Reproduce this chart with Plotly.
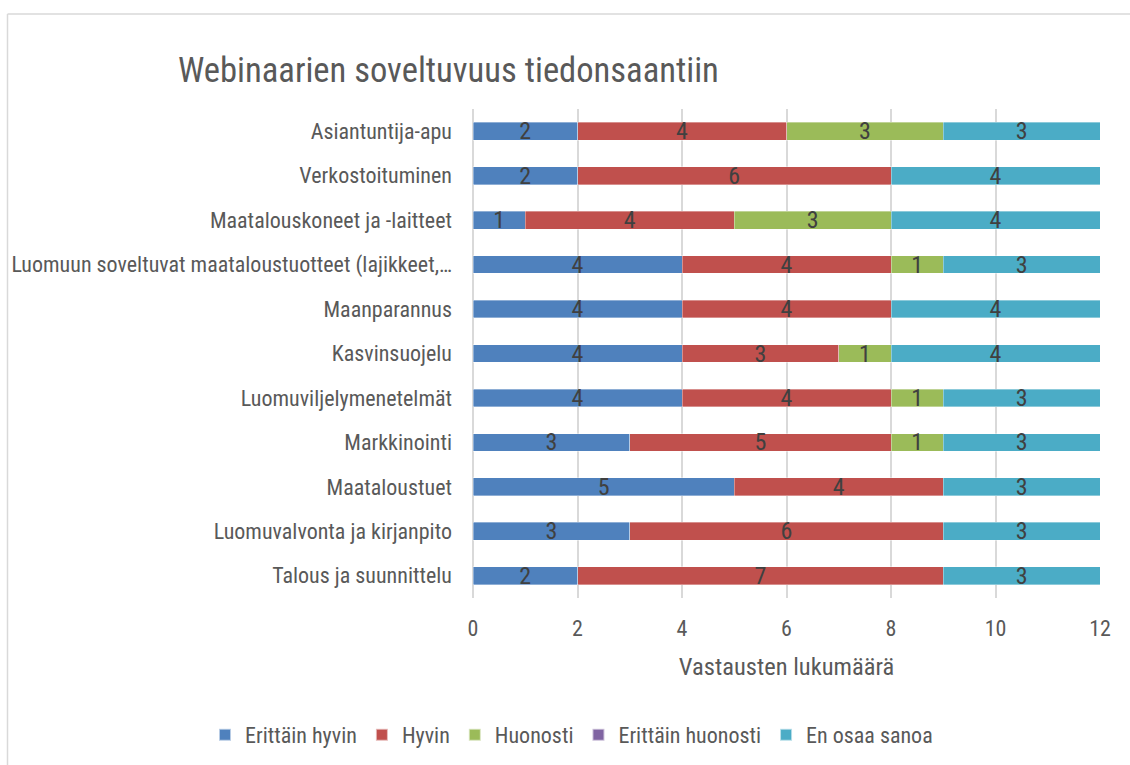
import plotly.graph_objects as go

categories = [
    "Talous ja suunnittelu",
    "Luomuvalvonta ja kirjanpito",
    "Maataloustuet",
    "Markkinointi",
    "Luomuviljelymenetelmät",
    "Kasvinsuojelu",
    "Maanparannus",
    "Luomuun soveltuvat maataloustuotteet (lajikkeet,…",
    "Maatalouskoneet ja -laitteet",
    "Verkostoituminen",
    "Asiantuntija-apu",
]
erittain_hyvin = [2, 3, 5, 3, 4, 4, 4, 4, 1, 2, 2]
hyvin = [7, 6, 4, 5, 4, 3, 4, 4, 4, 6, 4]
huonosti = [0, 0, 0, 1, 1, 1, 0, 1, 3, 0, 3]
erittain_huonosti = [0, 0, 0, 0, 0, 0, 0, 0, 0, 0, 0]
en_osaa = [3, 3, 3, 3, 3, 4, 4, 3, 4, 4, 3]

series_names = ["Erittäin hyvin", "Hyvin", "Huonosti", "Erittäin huonosti", "En osaa sanoa"]
series_values = [erittain_hyvin, hyvin, huonosti, erittain_huonosti, en_osaa]
colors = ["#4F81BD", "#C0504D", "#9BBB59", "#8064A2", "#4BACC6"]

FONT = "Liberation Sans Narrow, Arial Narrow, Roboto Condensed, Liberation Sans, Arial, sans-serif"

fig = go.Figure()
for name, vals, col in zip(series_names, series_values, colors):
    fig.add_trace(go.Bar(
        y=categories,
        x=[v if v else None for v in vals],
        name=name,
        orientation="h",
        marker=dict(color=col, line=dict(color="rgba(255,255,255,0.6)", width=0.6)),
        text=[str(v) if v else "" for v in vals],
        textposition="inside",
        textangle=0,
        insidetextanchor="middle",
        constraintext="none",
        cliponaxis=False,
        textfont=dict(family=FONT, size=24, color="#404040"),
        showlegend=True,
    ))

W, H = 1130, 765
L, R, T, B = 473, 30, 109, 167
pw, ph = W - L - R, H - T - B

def px_x(p):
    return (p - L) / pw

def px_y(p):
    return (H - B - p) / ph

fig.update_layout(
    width=W, height=H,
    barmode="stack",
    bargap=0.6,
    plot_bgcolor="white",
    paper_bgcolor="white",
    margin=dict(l=L, r=R, t=T, b=B, autoexpand=False),
    font=dict(family=FONT, color="#595959", size=22),
    title=dict(
        text="Webinaarien soveltuvuus tiedonsaantiin",
        x=178 / W, xanchor="left",
        y=1 - 70 / H, yanchor="middle",
        font=dict(family=FONT, size=34.6, color="#595959"),
    ),
    xaxis=dict(
        range=[0, 12], dtick=2, tick0=0,
        showgrid=True, gridcolor="#D9D9D9", gridwidth=1.5,
        zeroline=True, zerolinecolor="#D9D9D9", zerolinewidth=1.5,
        showline=False, ticks="",
        tickfont=dict(family=FONT, size=22, color="#595959"),
        ticklabelstandoff=15,
        title=dict(text="Vastausten lukumäärä", font=dict(family=FONT, size=24.5, color="#595959"), standoff=17),
    ),
    yaxis=dict(
        type="category",
        categoryorder="array", categoryarray=categories,
        showgrid=False, ticks="", showline=False,
        tickfont=dict(family=FONT, size=22, color="#595959"),
        ticklabelstandoff=20,
    ),
    legend=dict(
        orientation="h",
        x=px_x(205), xanchor="left",
        y=px_y(735), yanchor="middle",
        font=dict(family=FONT, size=22, color="#595959"),
        traceorder="normal",
        itemwidth=30,
        itemsizing="constant",
    ),
)

# outer chart frame (top and left edges visible)
fig.add_shape(type="line", xref="paper", yref="paper",
              x0=px_x(7.5), x1=px_x(1135), y0=px_y(14), y1=px_y(14),
              line=dict(color="#D9D9D9", width=1.5))
fig.add_shape(type="line", xref="paper", yref="paper",
              x0=px_x(7.5), x1=px_x(7.5), y0=px_y(14), y1=px_y(770),
              line=dict(color="#D9D9D9", width=1.5))

fig.write_html("out.html", config={"displayModeBar": False},
               post_script="document.body.style.margin='0px';")
